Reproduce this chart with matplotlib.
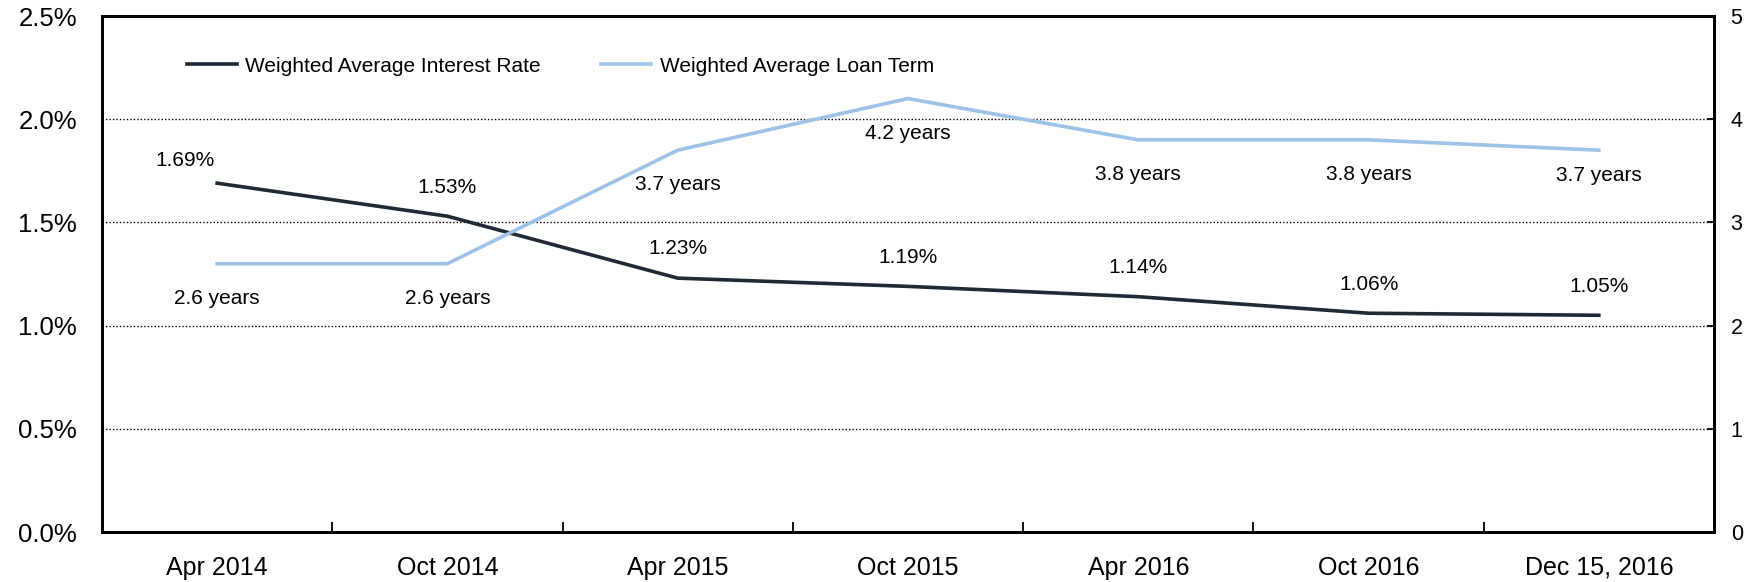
import numpy as np
import matplotlib.pyplot as plt
from matplotlib.ticker import FuncFormatter

plt.rcParams['font.family'] = ['Liberation Sans', 'DejaVu Sans']

periodos = ['Apr 2014', 'Oct 2014', 'Apr 2015', 'Oct 2015', 'Apr 2016', 'Oct 2016', 'Dec 15, 2016']
tasa_interes = [1.69, 1.53, 1.23, 1.19, 1.14, 1.06, 1.05]   # %
plazo_prestamo = [2.6, 2.6, 3.7, 4.2, 3.8, 3.8, 3.7]         # years

color_tasa = '#1f2a37'
color_plazo = '#9cc2e5'

# desplazamiento de cada etiqueta (puntos)
desp_tasa = [(-23, 16)] + [(0, 21)] * 6
desp_plazo = [(0, -25)] * 6 + [(0, -18)]

x = np.arange(len(periodos))

W, H = 1745, 582
fig = plt.figure(figsize=(W / 100, H / 100), dpi=100)
izq, der, arriba, abajo = 102, 1714, 16, 532
ax = fig.add_axes([izq / W, 1 - abajo / H, (der - izq) / W, (abajo - arriba) / H])
ax2 = ax.twinx()

ax.set_xlim(-0.5, len(periodos) - 0.5)
ax.set_ylim(0, 2.5)
ax2.set_ylim(0, 5)

for y in [0.5, 1.0, 1.5, 2.0]:
    ax.axhline(y, color='black', linestyle=(0, (1, 1.5)), linewidth=1.0, zorder=1)

l1, = ax.plot(x, tasa_interes, color=color_tasa, linewidth=2.6, zorder=3,
              label='Weighted Average Interest Rate')
l2, = ax2.plot(x, plazo_prestamo, color=color_plazo, linewidth=2.6, zorder=3,
               label='Weighted Average Loan Term')

for xi, v, d in zip(x, tasa_interes, desp_tasa):
    ax.annotate(f'{v:.2f}%', (xi, v), xytext=d, textcoords='offset points',
                ha='center', va='center', fontsize=15)
for xi, v, d in zip(x, plazo_prestamo, desp_plazo):
    ax2.annotate(f'{v:.1f} years', (xi, v), xytext=d, textcoords='offset points',
                 ha='center', va='center', fontsize=15)

ax.yaxis.set_major_formatter(FuncFormatter(lambda v, p: f'{v:.1f}%'))
ax.set_yticks(np.arange(0, 2.51, 0.5))
ax.tick_params(axis='y', length=0, labelsize=18.5, pad=18)
ax2.set_yticks(np.arange(0, 6, 1))
ax2.tick_params(axis='y', direction='in', length=5, width=1.3, labelsize=15.5, pad=12)

ax.set_xticks(x)
ax.set_xticklabels(periodos)
ax.tick_params(axis='x', length=0, labelsize=18, pad=17)
ax.set_xticks(x[:-1] + 0.5, minor=True)
ax.tick_params(axis='x', which='minor', direction='in', length=7, width=1.3)

for a in (ax, ax2):
    for s in a.spines.values():
        s.set_linewidth(2.0)

ax.legend(handles=[l1, l2], loc='center left', bbox_to_anchor=(85 / 1612, 0.9026), ncol=2,
          frameon=False, fontsize=15, handlelength=2.4, handletextpad=0.4,
          columnspacing=2.9, borderpad=0, borderaxespad=0)

fig.savefig('out.png', dpi=100)
